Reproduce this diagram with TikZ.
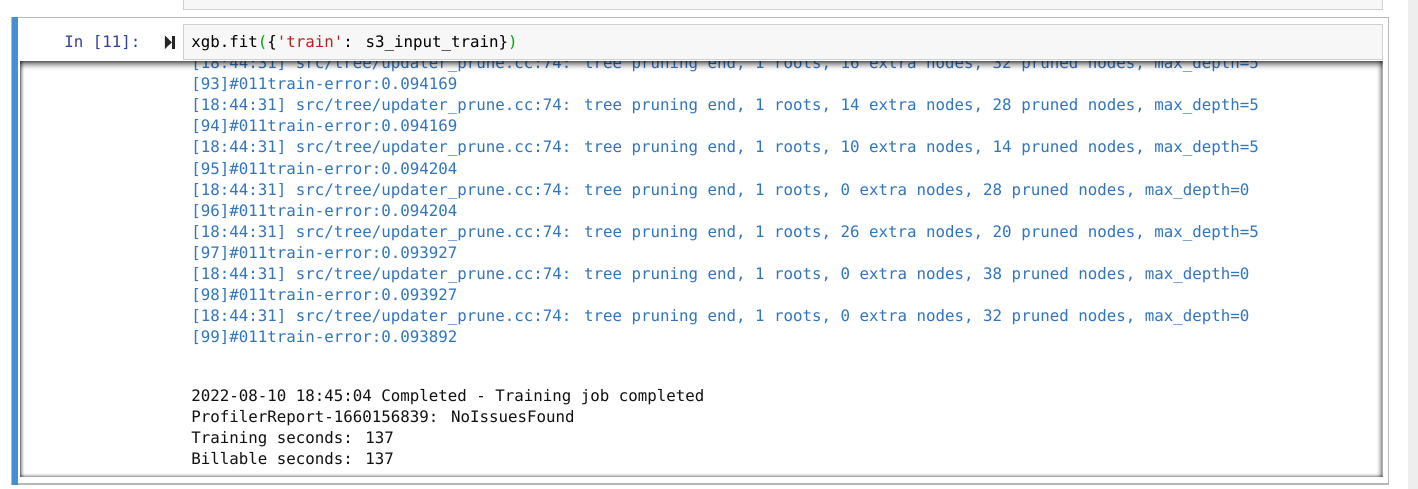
\documentclass[tikz,border=0pt]{standalone}
\usepackage{fontspec}
\newfontfamily\codefont{DejaVu Sans Mono}
\definecolor{logblue}{RGB}{49,117,190}
\definecolor{logblack}{HTML}{111111}
\definecolor{promptblue}{HTML}{303F9F}
\definecolor{cellbar}{RGB}{70,142,210}
\definecolor{cellline}{HTML}{B8B8B8}
\definecolor{inbg}{HTML}{F7F7F7}
\definecolor{inline}{HTML}{CFCFCF}
\definecolor{strred}{HTML}{BA2121}
\definecolor{brgreen}{HTML}{00AA00}
\definecolor{scrollbg}{HTML}{EEEEEE}
\tikzset{
  codetxt/.style={anchor=base west, inner sep=0pt, font=\codefont\fontsize{11.84pt}{14pt}\selectfont},
  bluetxt/.style={codetxt, text=logblue},
  blacktxt/.style={codetxt, text=logblack},
}
\begin{document}
\begin{tikzpicture}[x=0.75pt,y=-0.75pt]
\useasboundingbox (0,0) rectangle (1418,489);
\fill[white] (0,0) rectangle (1418,489);
% scrollbar strip
\fill[scrollbg] (1408,0) rectangle (1418,489);
% previous cell input (partial)
\draw[inline, fill=inbg] (183.5,-2) rectangle (1382,9.5);
% cell border and blue bar
\draw[cellline, line width=0.8pt] (12,17.5) rectangle (1388.5,484);
\fill[cellbar] (12,17) rectangle (17.5,484.5);
% input box
\draw[inline, fill=inbg] (183.5,24.5) rectangle (1382,59.5);
\node[codetxt, text=promptblue] (prompt) at (64,47.5) {In [11]:};
% run icon
\fill[black!85] (164.8,35.5) -- (171.8,42.3) -- (164.8,49) -- cycle;
\fill[black!85] (171.8,35.5) rectangle (175,49);
\node[codetxt] (code) at (191,47.5) {xgb.fit\textcolor{brgreen}{(}\{\textcolor{strred}{'train'}: s3\_input\_train\}\textcolor{brgreen}{)}};
% output area
\fill[white] (19.5,61) rectangle (1382.5,476.5);
\begin{scope}
\clip (19.5,61) rectangle (1382.5,476.5);
\node[bluetxt] (l0) at (191,68.5) {[18:44:31] src/tree/updater\_prune.cc:74: tree pruning end, 1 roots, 16 extra nodes, 32 pruned nodes, max\_depth=5};
\node[bluetxt] (l1) at (191,89.6) {[93]\#011train-error:0.094169};
\node[bluetxt] (l2) at (191,110.7) {[18:44:31] src/tree/updater\_prune.cc:74: tree pruning end, 1 roots, 14 extra nodes, 28 pruned nodes, max\_depth=5};
\node[bluetxt] (l3) at (191,131.8) {[94]\#011train-error:0.094169};
\node[bluetxt] (l4) at (191,152.9) {[18:44:31] src/tree/updater\_prune.cc:74: tree pruning end, 1 roots, 10 extra nodes, 14 pruned nodes, max\_depth=5};
\node[bluetxt] (l5) at (191,174.0) {[95]\#011train-error:0.094204};
\node[bluetxt] (l6) at (191,195.1) {[18:44:31] src/tree/updater\_prune.cc:74: tree pruning end, 1 roots, 0 extra nodes, 28 pruned nodes, max\_depth=0};
\node[bluetxt] (l7) at (191,216.2) {[96]\#011train-error:0.094204};
\node[bluetxt] (l8) at (191,237.3) {[18:44:31] src/tree/updater\_prune.cc:74: tree pruning end, 1 roots, 26 extra nodes, 20 pruned nodes, max\_depth=5};
\node[bluetxt] (l9) at (191,258.4) {[97]\#011train-error:0.093927};
\node[bluetxt] (l10) at (191,279.5) {[18:44:31] src/tree/updater\_prune.cc:74: tree pruning end, 1 roots, 0 extra nodes, 38 pruned nodes, max\_depth=0};
\node[bluetxt] (l11) at (191,300.6) {[98]\#011train-error:0.093927};
\node[bluetxt] (l12) at (191,321.7) {[18:44:31] src/tree/updater\_prune.cc:74: tree pruning end, 1 roots, 0 extra nodes, 32 pruned nodes, max\_depth=0};
\node[bluetxt] (l13) at (191,342.8) {[99]\#011train-error:0.093892};
\node[blacktxt] (b1) at (191,401.5) {2022-08-10 18:45:04 Completed - Training job completed};
\node[blacktxt] (b2) at (191,422.6) {ProfilerReport-1660156839: NoIssuesFound};
\node[blacktxt] (b3) at (191,443.7) {Training seconds: 137};
\node[blacktxt] (b4) at (191,464.8) {Billable seconds: 137};
% inset shadow: top (strong), left, right, bottom
\foreach \i in {0,...,9}{
  \pgfmathsetmacro{\op}{0.62*(1-\i/10)^2}
  \fill[black, opacity=\op] (19.5,61+\i) rectangle (1382.5,62+\i);
}
\foreach \i in {0,...,4}{
  \pgfmathsetmacro{\op}{0.5*(1-\i/5)^2}
  \fill[black, opacity=\op] (19.5+\i,61) rectangle (20.5+\i,476.5);
}
\foreach \i in {0,...,6}{
  \pgfmathsetmacro{\op}{0.5*(1-\i/7)^2}
  \fill[black, opacity=\op] (1381.5-\i,61) rectangle (1382.5-\i,476.5);
}
\foreach \i in {0,...,3}{
  \pgfmathsetmacro{\op}{0.35*(1-\i/4)^2}
  \fill[black, opacity=\op] (19.5,475.5-\i) rectangle (1382.5,476.5-\i);
}
\end{scope}
\end{tikzpicture}
\end{document}
